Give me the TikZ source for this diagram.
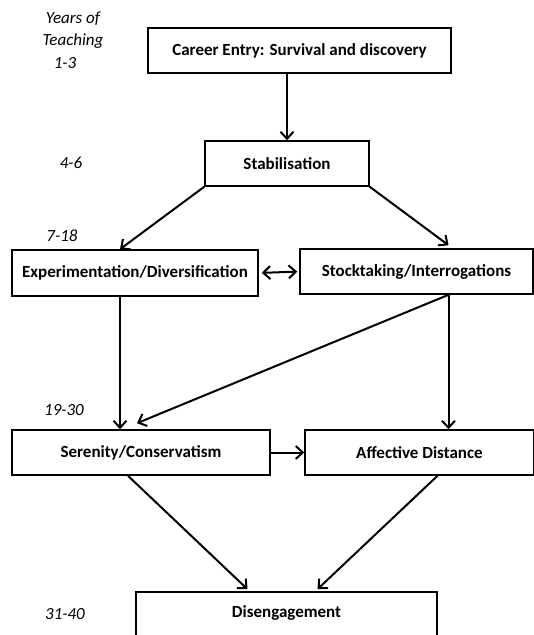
\documentclass[tikz,border=0pt]{standalone}
\usepackage{fontspec}
\setmainfont{Carlito}
\usepackage{tikz}
\usetikzlibrary{arrows.meta}
\tikzstyle{stage}=[rectangle,minimum height=45pt,inner sep=0pt,
text centered,draw=black,line width=1.6pt,font=\fontsize{17}{20}\selectfont\bfseries]
\tikzstyle{years}=[font=\fontsize{17}{20}\selectfont\itshape]
\tikzstyle{arrow}=[line width=2pt,-{Straight Barb[length=7pt,width=13pt]}]
\tikzstyle{twoway}=[line width=2pt,{Straight Barb[length=7pt,width=13pt]}-{Straight Barb[length=7pt,width=13pt]}]

\begin{document}
\begin{tikzpicture}[x=1pt,y=-1pt]
        \useasboundingbox (0,0) rectangle (534,635);
        \fill[white] (0,0) rectangle (534,635);

        \node (career) [stage,minimum width=303pt] at (299.5,50.5) {Career Entry: Survival and discovery};
        \node (stab) [stage,minimum width=164pt] at (287,163.5) {Stabilisation};
        \node (exper) [stage,minimum width=246pt,minimum height=46pt] at (135,273) {Experimentation/Diversification};
        \node (stock) [stage,minimum width=233pt] at (416.5,271.5) {Stocktaking/Interrogations};
        \node (seren) [stage,minimum width=258pt] at (141,452.5) {Serenity/Conservatism};
        \node (affect) [stage,minimum width=229pt] at (419.5,452.5) {Affective Distance};
        \node (diseng) [stage,minimum width=301pt,minimum height=66pt,text depth=26pt] at (286.5,625) {Disengagement};

        \node (yof) [years] at (73,19) {Years of};
        \node (teach) [years] at (73,41) {Teaching};
        \node (y1) [years] at (65,63) {1-3};
        \node (y2) [years] at (71,163) {4-6};
        \node (y3) [years] at (62,236) {7-18};
        \node (y4) [years] at (64,410) {19-30};
        \node (y5) [years] at (65,614) {31-40};

        \coordinate (stockout) at ([xshift=32pt]stock.south);

        \draw [arrow] (stab.north |- career.south) -- (stab.north);
        \draw [arrow] (stab.south west) -- ([xshift=-15pt]exper.north);
        \draw [arrow] (stab.south east) -- ([xshift=32pt,yshift=3pt]stock.north);
        \draw [twoway,shorten <=3pt,shorten >=2pt] (exper.east) -- (stock.west);
        \draw [arrow] ([xshift=-15pt]exper.south) -- ([xshift=-21pt]seren.north);
        \draw [arrow] (stockout) -- ([xshift=-4pt,yshift=6pt]seren.north);
        \draw [arrow] (stockout) -- (stockout |- affect.north);
        \draw [arrow] (seren.east) -- (affect.west);
        \draw [arrow] ([xshift=-13pt]seren.south) -- ([xshift=-39pt,yshift=2pt]diseng.north);
        \draw [arrow] ([xshift=18pt]affect.south) -- ([xshift=31pt,yshift=2pt]diseng.north);

    \end{tikzpicture}
\end{document}
